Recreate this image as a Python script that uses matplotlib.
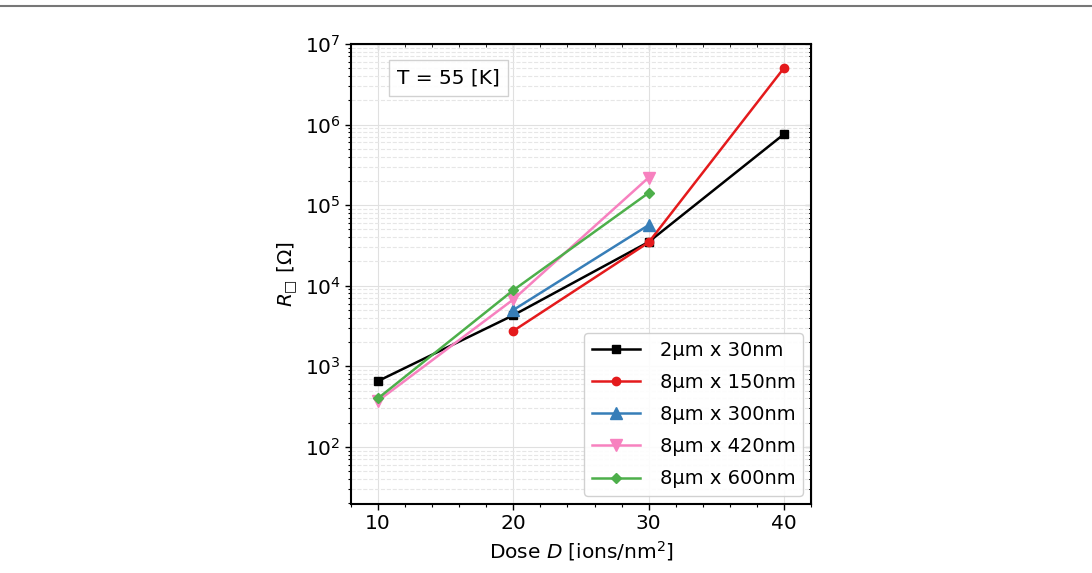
import numpy as np
import matplotlib
matplotlib.use('Agg')
from matplotlib import pyplot as plt
from matplotlib.lines import Line2D
from matplotlib.ticker import AutoMinorLocator, LogLocator, NullFormatter

plt.rcParams['font.family'] = ['DejaVu Sans']
plt.rcParams['mathtext.fontset'] = 'dejavusans'

# dose values [ions/nm^2] and sheet resistance [Ohm] per device
dose_2um_30 = [10, 20, 30, 40]
r_2um_30 = [655, 4300, 34900, 760000]

dose_8um_150 = [20, 30, 40]
r_8um_150 = [2750, 34500, 5.04e6]

dose_8um_300 = [20, 30]
r_8um_300 = [5000, 56500]

dose_8um_420 = [10, 20, 30]
r_8um_420 = [372, 6750, 220000]

dose_8um_600 = [10, 20, 30]
r_8um_600 = [400, 8800, 142000]

labels = ['2μm x 30nm', '8μm x 150nm', '8μm x 300nm', '8μm x 420nm', '8μm x 600nm']
colors = ['black', '#e41a1c', '#377eb8', '#f781bf', '#4daf4a']
markers = ['s', 'o', '^', 'v', 'D']

series = [(dose_2um_30, r_2um_30), (dose_8um_150, r_8um_150),
          (dose_8um_300, r_8um_300), (dose_8um_420, r_8um_420),
          (dose_8um_600, r_8um_600)]

fig = plt.figure(figsize=(10.92, 5.73), dpi=100)
ax = fig.add_axes([0.3214, 0.1204, 0.4213, 0.8028])

for (x, y), lab, c, m in zip(series, labels, colors, markers):
    ms = 6 if m in ('s', 'o') else (8.5 if m in ('^', 'v') else 5.5)
    ax.plot(x, y, color=c, marker=m, markersize=ms, linewidth=1.8, label=lab)

ax.set_yscale('log')
ax.set_xlim(8, 42)
ax.set_ylim(19.5, 1e7)
ax.set_xticks([10, 20, 30, 40])
ax.xaxis.set_minor_locator(AutoMinorLocator(5))
ax.yaxis.set_major_locator(LogLocator(base=10, numticks=12))
ax.yaxis.set_minor_locator(LogLocator(base=10, subs=np.arange(2, 10), numticks=12))
ax.yaxis.set_minor_formatter(NullFormatter())

ax.grid(which='major', color='#e0e0e0', linewidth=0.8)
ax.grid(which='minor', axis='y', color='#e6e6e6', linewidth=0.8, linestyle='--')
ax.set_axisbelow(True)

ax.tick_params(which='major', labelsize=14.5, length=4, width=1)
ax.tick_params(which='minor', length=2.5, width=0.8)
for s in ax.spines.values():
    s.set_linewidth(1.5)

# inward ticks on top and right
top = ax.secondary_xaxis('top')
top.set_xticks([10, 20, 30, 40])
top.xaxis.set_minor_locator(AutoMinorLocator(5))
top.tick_params(which='both', direction='in', labeltop=False)
top.tick_params(which='major', length=4)
top.tick_params(which='minor', length=2.5)
right = ax.secondary_yaxis('right')
right.tick_params(which='both', direction='in', labelright=False)
right.tick_params(which='major', length=4)
right.tick_params(which='minor', length=2.5)

ax.set_xlabel(r'Dose $D$ [ions/nm$^2$]', fontsize=14.5)
ax.set_ylabel('$R_{\u25a1}$ [$\\Omega$]', fontsize=14.5)

ax.text(0.1, 0.915, 'T = 55 [K]', transform=ax.transAxes, fontsize=14.5,
        bbox=dict(boxstyle='square,pad=0.42', facecolor='white',
                  edgecolor='#cccccc', alpha=0.9))

ax.legend(loc='lower right', fontsize=14, framealpha=0.9,
          borderaxespad=0.4, handlelength=2.5, handletextpad=1.0,
          labelspacing=0.68)

fig.add_artist(Line2D([0, 1], [0.989, 0.989], transform=fig.transFigure,
                      color='#777777', linewidth=1.5))

fig.savefig('out.png', dpi=100)
